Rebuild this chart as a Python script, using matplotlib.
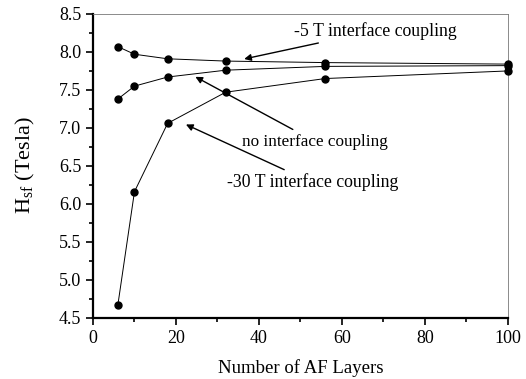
import matplotlib
matplotlib.use("Agg")
import matplotlib.pyplot as plt
from matplotlib.ticker import MultipleLocator

plt.rcParams["font.family"] = ["Liberation Serif", "DejaVu Serif"]
plt.rcParams["mathtext.fontset"] = "custom"
plt.rcParams["mathtext.rm"] = "Liberation Serif"

# ---------------------------------
# Data
# ---------------------------------
af_layers = [6, 10, 18, 32, 56, 100]
hsf_minus5 = [8.07, 7.97, 7.91, 7.88, 7.86, 7.84]
hsf_none = [7.38, 7.55, 7.67, 7.76, 7.81, 7.82]
hsf_minus30 = [4.67, 6.16, 7.06, 7.47, 7.65, 7.75]

fig = plt.figure(figsize=(5.26, 3.79), dpi=100)
ax = fig.add_axes([93 / 526, 1 - 317.7 / 379, (507.7 - 93) / 526, (317.7 - 14) / 379])

for series in (hsf_minus5, hsf_none, hsf_minus30):
    ax.plot(af_layers, series, color="black", linewidth=0.7,
            marker="o", markersize=5, clip_on=False, zorder=3)

ax.set_xlim(0, 100)
ax.set_ylim(4.5, 8.5)
ax.xaxis.set_major_locator(MultipleLocator(20))
ax.xaxis.set_minor_locator(MultipleLocator(10))
ax.yaxis.set_major_locator(MultipleLocator(0.5))
ax.yaxis.set_minor_locator(MultipleLocator(0.25))
ax.yaxis.set_major_formatter(plt.FormatStrFormatter("%.1f"))

ax.tick_params(which="both", direction="out", top=False, right=False,
               labelsize=13, width=1.2)
ax.tick_params(which="major", length=5)
ax.tick_params(which="minor", length=3)

for side in ("left", "bottom"):
    ax.spines[side].set_linewidth(1.6)
for side in ("top", "right"):
    ax.spines[side].set_linewidth(0.6)
    ax.spines[side].set_color("#777777")

ax.set_xlabel("Number of AF Layers", fontsize=13.5, labelpad=9)
fig.text(25 / 526, 1 - 165 / 379, r"H$_{\mathrm{sf}}$ (Tesla)", fontsize=16,
         rotation=90, ha="center", va="center")

arrow = dict(arrowstyle="-|>", color="black", linewidth=1.0, mutation_scale=10)
ax.annotate("-5 T interface coupling", xy=(35.8, 7.90), xytext=(48.5, 8.28),
            fontsize=12.8, va="center", ha="left", arrowprops=arrow)
ax.annotate("no interface coupling", xy=(24.1, 7.69), xytext=(36, 6.82),
            fontsize=12.3, va="center", ha="left", arrowprops=arrow)
ax.annotate("-30 T interface coupling", xy=(21.8, 7.06), xytext=(32.2, 6.28),
            fontsize=12.8, va="center", ha="left", arrowprops=arrow)

fig.savefig("out.png", dpi=100)
